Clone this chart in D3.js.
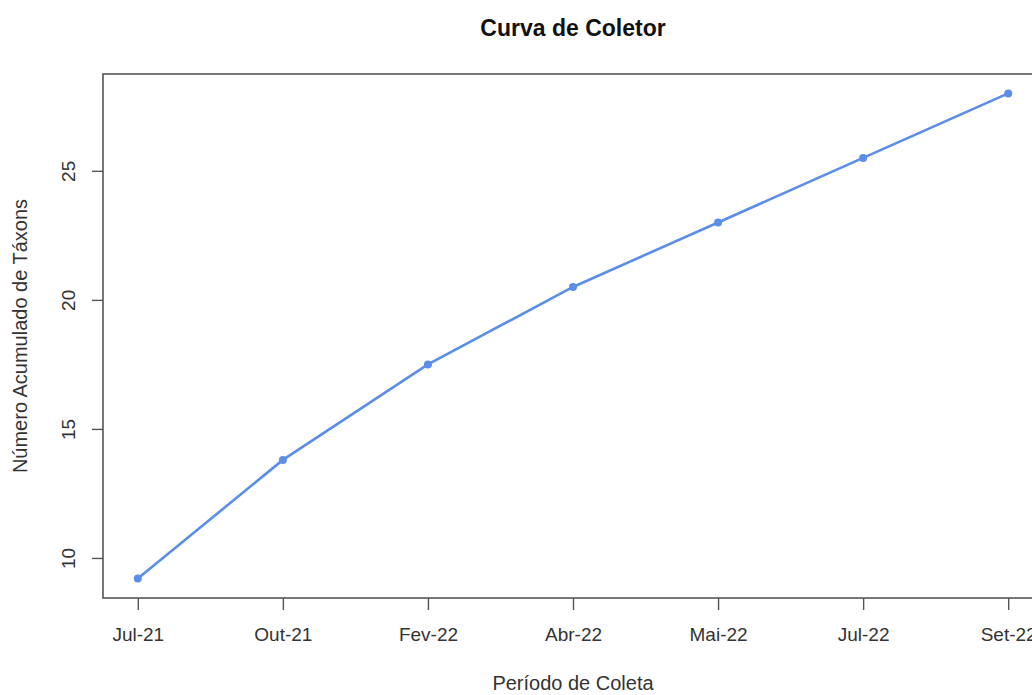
<!DOCTYPE html>
<html>
<head>
<meta charset="utf-8">
<script src="https://cdn.jsdelivr.net/npm/d3@7"></script>
<style>
  body { margin: 0; background: #fff; }
  text { font-family: "Liberation Sans", Arial, sans-serif; fill: #333; }
</style>
</head>
<body>
<div id="viz"></div>
<script>
const width = 1032;
const height = 695;

// Data
const periods = ["Jul-21", "Out-21", "Fev-22", "Abr-22", "Mai-22", "Jul-22", "Set-22"];
const taxa = [9.2, 13.8, 17.5, 20.5, 23.0, 25.5, 28.0];
const yTicks = [10, 15, 20, 25];

const margins = { left: 103, right: -11, top: 74, bottom: 97 };
const visWidth = width - margins.left - margins.right;
const visHeight = height - margins.top - margins.bottom;

const svg = d3.select('#viz')
    .append("svg")
    .attr('width', width)
    .attr('height', height);

const g = svg.append("g")
    .attr("transform", `translate(${margins.left}, ${margins.top})`);

// R-style 4% padding on both axes
const n = periods.length;
const xPad = (n - 1) * 0.04;
const xScale = d3.scaleLinear()
    .domain([-xPad, n - 1 + xPad])
    .range([0, visWidth]);

const [yMin, yMax] = d3.extent(taxa);
const yPad = (yMax - yMin) * 0.04;
const yScale = d3.scaleLinear()
    .domain([yMin - yPad, yMax + yPad])
    .range([visHeight, 0]);

// plot box
g.append("rect")
    .attr("x", 0).attr("y", 0)
    .attr("width", visWidth).attr("height", visHeight)
    .attr("fill", "none")
    .attr("stroke", "#555")
    .attr("stroke-width", 1.6);

// x axis
const xAxis = g.append("g")
    .attr("transform", `translate(0, ${visHeight})`)
    .call(d3.axisBottom(xScale)
        .tickValues(d3.range(n))
        .tickFormat(i => periods[i])
        .tickSize(12)
        .tickPadding(18));
xAxis.select(".domain").remove();
xAxis.selectAll("line").attr("stroke", "#555").attr("stroke-width", 1.4);
xAxis.selectAll("text")
    .attr("font-size", 19)
    .attr("font-family", "'Liberation Sans', Arial, sans-serif")
    .attr("fill", "#333");

// y axis, labels rotated like base R
const yAxis = g.append("g")
    .call(d3.axisLeft(yScale)
        .tickValues(yTicks)
        .tickSize(11)
        .tickPadding(14));
yAxis.select(".domain").remove();
yAxis.selectAll("line").attr("stroke", "#555").attr("stroke-width", 1.4);
yAxis.selectAll(".tick text")
    .attr("font-size", 19)
    .attr("font-family", "'Liberation Sans', Arial, sans-serif")
    .attr("fill", "#333")
    .attr("text-anchor", "middle")
    .attr("x", 0).attr("y", 0)
    .attr("dy", "0.35em")
    .attr("transform", "translate(-35, 0) rotate(-90)");

// line
const line = d3.line()
    .x((d, i) => xScale(i))
    .y(d => yScale(d));

g.append("path")
    .datum(taxa)
    .attr("fill", "none")
    .attr("stroke", "#5b8ee8")
    .attr("stroke-width", 2.6)
    .attr("d", line);

g.selectAll("circle.pt")
    .data(taxa)
    .enter()
    .append("circle")
    .attr("class", "pt")
    .attr("cx", (d, i) => xScale(i))
    .attr("cy", d => yScale(d))
    .attr("r", 4)
    .attr("fill", "#5b8ee8");

// title
svg.append("text")
    .attr("x", margins.left + visWidth / 2)
    .attr("y", 36)
    .attr("text-anchor", "middle")
    .attr("font-size", 23)
    .attr("font-weight", "bold")
    .style("fill", "#111")
    .text("Curva de Coletor");

// axis titles
svg.append("text")
    .attr("x", margins.left + visWidth / 2)
    .attr("y", 690)
    .attr("text-anchor", "middle")
    .attr("font-size", 20)
    .text("Período de Coleta");

svg.append("text")
    .attr("transform", `translate(27, ${margins.top + visHeight / 2}) rotate(-90)`)
    .attr("text-anchor", "middle")
    .attr("font-size", 20)
    .text("Número Acumulado de Táxons");
</script>
</body>
</html>
